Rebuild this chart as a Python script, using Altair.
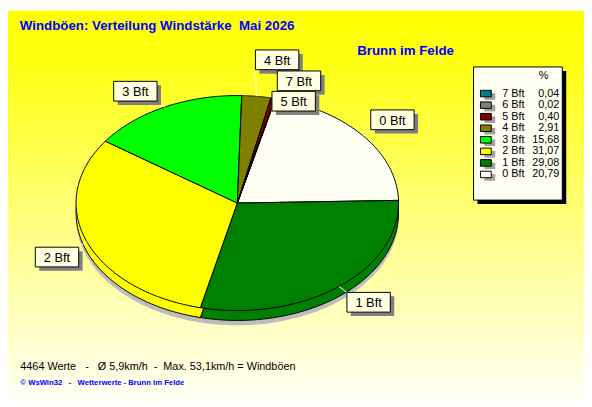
import altair as alt
import pandas as pd

# ---- data ----
cats = ["0 Bft", "1 Bft", "2 Bft", "3 Bft", "4 Bft", "5 Bft", "6 Bft", "7 Bft"]
pct = [20.79, 29.08, 31.07, 15.68, 2.91, 0.40, 0.02, 0.04]
colors = ["#FFFFF4", "#008000", "#FFFF00", "#00FF00", "#808000", "#800000", "#808080", "#008080"]
title_text = "Windböen: Verteilung Windstärke\u00a0\u00a0Mai 2026"
station_text = "Brunn im Felde"
info_text = "4464 Werte\u00a0\u00a0\u00a0-\u00a0\u00a0\u00a0Ø 5,9km/h\u00a0\u00a0-\u00a0\u00a0Max. 53,1km/h = Windböen"
credit_text = "© WsWin32\u00a0\u00a0\u00a0-\u00a0\u00a0\u00a0Wetterwerte - Brunn im Felde"

# ---- layout (pixels inside the chart) ----
W, H = 584, 399
CX, CY, RX, RY = 232.5, 195.0, 163.5, 109.0
DEPTH = 10
START = 13.7  # degrees, clockwise from 12 o'clock
N = 90
FONT = "Liberation Sans"

df = pd.DataFrame({"cat": cats, "pct": pct, "ord": list(range(len(cats)))})
one = pd.DataFrame({"t": [title_text], "s": [station_text], "i": [info_text], "c": [credit_text]})

xs = alt.Scale(domain=[-1, 1], range=[CX - RX, CX + RX], nice=False, zero=False)
ys = alt.Scale(domain=[-1, 1], range=[CY + RY, CY - RY], nice=False, zero=False)
cs = alt.Scale(domain=cats, range=colors)

base = (
    alt.Chart(df)
    .transform_joinaggregate(total="sum(pct)")
    .transform_window(cum="sum(pct)", sort=[alt.SortField("ord")], frame=[None, 0])
    .transform_calculate(a0=f"PI*{START}/180 + 2*PI*(datum.cum - datum.pct)/datum.total")
    .transform_calculate(a1=f"PI*{START}/180 + 2*PI*datum.cum/datum.total")
)

poly = (
    base.transform_calculate(ks=f"sequence(0, {N + 2})")
    .transform_flatten(["ks"], as_=["k"])
    .transform_calculate(a=f"datum.a0 + (datum.a1 - datum.a0) * (datum.k - 1) / {N - 1}")
    .transform_calculate(edge=f"datum.k == 0 || datum.k == {N + 1}")
    .transform_calculate(px="datum.edge ? 0 : sin(datum.a)")
    .transform_calculate(py="datum.edge ? 0 : cos(datum.a)")
)

penc = dict(
    x=alt.X("px:Q", scale=xs, axis=None),
    y=alt.Y("py:Q", scale=ys, axis=None),
    order=alt.Order("k:Q"),
    detail="cat:N",
)
colenc = alt.Color("cat:N", scale=cs, legend=None)

shadow = poly.mark_line(filled=True, color="#BDBDBD", yOffset=DEPTH + 5, strokeWidth=0).encode(**penc)
side = poly.mark_line(filled=True, stroke="black", strokeWidth=1, yOffset=DEPTH).encode(color=colenc, **penc)
top = poly.mark_line(filled=True, stroke="black", strokeWidth=1).encode(color=colenc, **penc)

lab = (
    base.transform_filter("datum.cat != '6 Bft'")  # hidden behind the 7 Bft label in the original
    .transform_calculate(m="(datum.a0 + datum.a1) / 2")
    .transform_calculate(ex="sin(datum.m)")
    .transform_calculate(ey="cos(datum.m)")
    .transform_calculate(sx="datum.ex >= 0 ? 1 : -1")
    .transform_calculate(sy="datum.ey >= 0 ? 1 : -1")
    .transform_calculate(nx="datum.cat == '7 Bft' ? -6 : (datum.pct < 5 ? -9 : 0)")
    .transform_calculate(ny="datum.cat == '4 Bft' ? -21 : (datum.cat == '5 Bft' ? 19 : (datum.pct < 5 ? -2 : 0))")
    .transform_calculate(lx=f"datum.ex + (datum.sx * 30 + datum.nx) / {RX}")
    .transform_calculate(ly=f"datum.ey + (datum.sy * 16 - datum.ny) / {RY}")
    .transform_calculate(cxd=f"datum.lx - datum.sx * 22 / {RX}")
    .transform_calculate(cyd=f"datum.ly - datum.sy * 10 / {RY}")
)

BOX = "M-1,-0.4545L1,-0.4545L1,0.4545L-1,0.4545Z"
lenc = dict(x=alt.X("lx:Q", scale=xs, axis=None), y=alt.Y("ly:Q", scale=ys, axis=None))

leader = lab.mark_rule(color="white", strokeWidth=1).encode(
    x=alt.X("ex:Q", scale=xs, axis=None), y=alt.Y("ey:Q", scale=ys, axis=None), x2="cxd:Q", y2="cyd:Q"
)
box_sh = lab.mark_point(shape=BOX, size=44 * 44, filled=True, color="#808080", opacity=1, xOffset=4, yOffset=4).encode(**lenc)
box = lab.mark_point(shape=BOX, size=44 * 44, filled=True, fill="#FFFFE1", stroke="black", strokeWidth=1, opacity=1).encode(**lenc)
box_txt = lab.mark_text(font=FONT, fontSize=13, color="black", baseline="middle", align="center", dy=1).encode(text="cat:N", **lenc)

# ---- legend ----
leg = alt.Chart(df).transform_calculate(val="replace(format(datum.pct, '.2f'), '.', ',')")
legy = alt.Y("ord:Q", scale=alt.Scale(domain=[0, 7], range=[166, 84], nice=False, zero=False), axis=None)
MK = "M-1,-0.6L1,-0.6L1,0.6L-1,0.6Z"

leg_sh = alt.Chart(one).mark_rect(color="black").encode(
    x=alt.value(476), x2=alt.value(566), y=alt.value(61), y2=alt.value(196)
)
leg_box = alt.Chart(one).mark_rect(fill="#FFFFF4", stroke="black", strokeWidth=1).encode(
    x=alt.value(472), x2=alt.value(562), y=alt.value(57), y2=alt.value(192)
)
leg_pct = alt.Chart(one).mark_text(text="%", font=FONT, fontSize=11, color="black").encode(
    x=alt.value(543), y=alt.value(66.5)
)
leg_msh = leg.mark_point(shape=MK, size=121, filled=True, color="#A0A0A0", opacity=1, xOffset=4, yOffset=3).encode(
    x=alt.value(484.5), y=legy
)
leg_mk = leg.mark_point(shape=MK, size=121, filled=True, stroke="black", strokeWidth=1, opacity=1).encode(
    x=alt.value(484.5), y=legy, color=colenc
)
leg_lab = leg.mark_text(font=FONT, fontSize=11, color="black", align="left", baseline="middle").encode(
    x=alt.value(501), y=legy, text="cat:N"
)
leg_val = leg.mark_text(font=FONT, fontSize=11, color="black", align="right", baseline="middle").encode(
    x=alt.value(559), y=legy, text="val:N"
)

# ---- background & texts ----
bg = alt.Chart(one).mark_rect(
    color=alt.LinearGradient(
        gradient="linear",
        stops=[
            alt.GradientStop(offset=0, color="#FFFF00"),
            alt.GradientStop(offset=0.12, color="#FFFF10"),
            alt.GradientStop(offset=1, color="#FFFFF8"),
        ],
        x1=0, x2=0, y1=0, y2=1,
    )
).encode(x=alt.value(0), x2=alt.value(W), y=alt.value(0), y2=alt.value(H))

t_title = alt.Chart(one).mark_text(font=FONT, fontSize=13.5, fontWeight="bold", color="#0000FF", align="left", baseline="middle").encode(
    x=alt.value(12), y=alt.value(16), text="t:N"
)
t_station = alt.Chart(one).mark_text(font=FONT, fontSize=13.5, fontWeight="bold", color="#0000FF", align="left", baseline="middle").encode(
    x=alt.value(354), y=alt.value(41), text="s:N"
)
t_info = alt.Chart(one).mark_text(font=FONT, fontSize=11, color="black", align="left", baseline="middle").encode(
    x=alt.value(12.5), y=alt.value(361), text="i:N"
)
t_credit = alt.Chart(one).mark_text(font=FONT, fontSize=7.8, fontWeight="bold", color="#0000FF", align="left", baseline="middle").encode(
    x=alt.value(12.5), y=alt.value(377.5), text="c:N"
)

chart = (
    alt.layer(
        bg, t_title, t_station, t_info, t_credit,
        shadow, side, top,
        leader, box_sh, box, box_txt,
        leg_sh, leg_box, leg_pct, leg_msh, leg_mk, leg_lab, leg_val,
    )
    .resolve_scale(y="independent", x="independent")
    .properties(width=W, height=H, padding=0, autosize="none", background="transparent")
    .configure_view(stroke=None)
)

chart.save("out.html", embed_options={"renderer": "svg", "actions": False})
